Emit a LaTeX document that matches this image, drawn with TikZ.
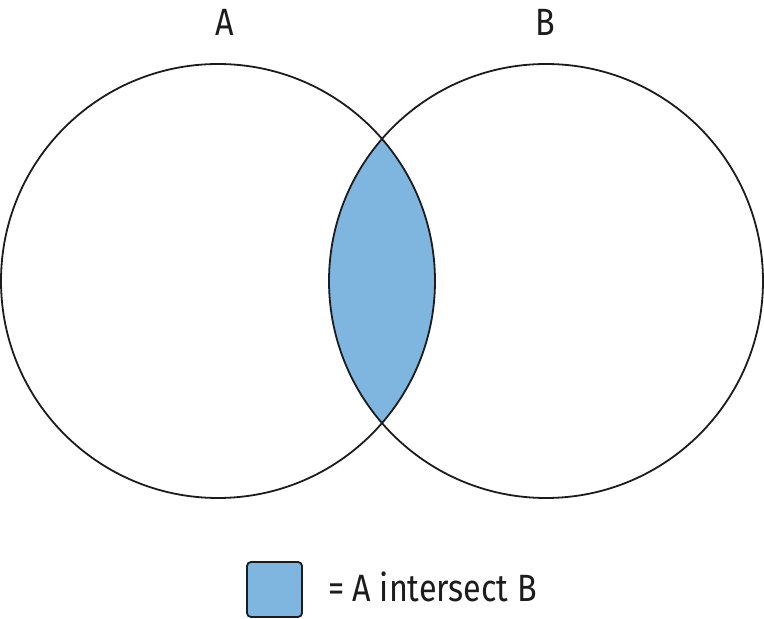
\documentclass[tikz,border=0pt]{standalone}
\usepackage{fontspec}
\setmainfont[FakeStretch=0.85]{Fira Sans}
\definecolor{lensblue}{HTML}{7EB6DF}
\definecolor{inkline}{HTML}{1C1C1C}
\tikzset{
  setline/.style={draw=inkline, line width=1.8pt},
  setlabel/.style={font=\fontsize{38}{40}\selectfont, text=inkline, inner sep=0pt},
  legendbox/.style={setline, fill=lensblue, rounded corners=4pt, minimum size=55pt, inner sep=0pt}
}
\begin{document}
\begin{tikzpicture}[x=1pt, y=1pt]
		\useasboundingbox (0,0) rectangle (764,619);
		% shaded intersection
		\begin{scope}
			\clip (218,338) circle (217);
			\fill[lensblue] (546,338) circle (217);
		\end{scope}
		\draw[setline] (218,338) circle (217);
		\draw[setline] (546,338) circle (217);
		\node[setlabel] (lbla) at (225,597) {A};
		\node[setlabel] (lblb) at (545,597) {B};
		% legend
		\node[legendbox] (key) at (274.5,29.5) {};
		\node[setlabel, anchor=west] (keytext) at (328,32) {= A intersect B};
	\end{tikzpicture}
\end{document}
